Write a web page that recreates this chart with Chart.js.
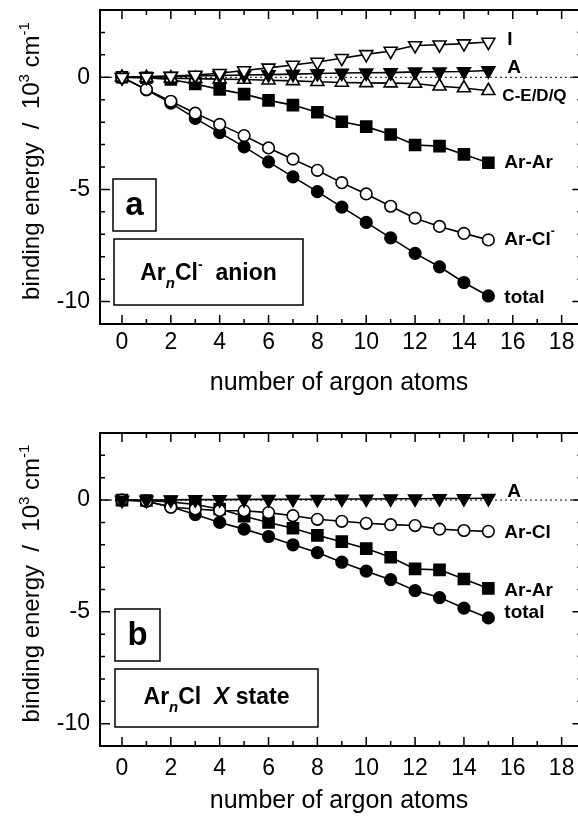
<!DOCTYPE html>
<html>
<head>
<meta charset="utf-8">
<script src="https://cdn.jsdelivr.net/npm/chart.js@4.4.1/dist/chart.umd.min.js"></script>
<style>
  html, body { margin: 0; padding: 0; background: #fff; }
  canvas { display: block; }
</style>
</head>
<body>
<canvas id="chartA" width="578" height="400"></canvas>
<canvas id="chartB" width="578" height="416"></canvas>
<script>
// number of argon atoms
var nAtoms = [0, 1, 2, 3, 4, 5, 6, 7, 8, 9, 10, 11, 12, 13, 14, 15];
var xTicks = [0, 2, 4, 6, 8, 10, 12, 14, 16, 18];
var yTicks = [-10, -5, 0];

// (a) ArnCl- anion, binding energy / 10^3 cm^-1
var anionI     = [0, 0.02, 0.05, 0.1, 0.18, 0.3, 0.42, 0.55, 0.68, 0.85, 1.02, 1.17, 1.42, 1.45, 1.5, 1.57];
var anionA     = [0, 0.02, 0.04, 0.06, 0.08, 0.1, 0.12, 0.14, 0.17, 0.19, 0.2, 0.21, 0.24, 0.25, 0.26, 0.3];
var anionCEDQ  = [0, -0.02, -0.04, -0.06, -0.08, -0.1, -0.13, -0.16, -0.2, -0.23, -0.25, -0.26, -0.28, -0.4, -0.48, -0.6];
var anionArAr  = [0, -0.02, -0.1, -0.3, -0.54, -0.75, -1.03, -1.24, -1.56, -1.98, -2.2, -2.55, -3.02, -3.07, -3.44, -3.81];
var anionArCl  = [0, -0.54, -1.07, -1.6, -2.1, -2.6, -3.15, -3.65, -4.15, -4.7, -5.2, -5.75, -6.28, -6.65, -6.96, -7.25];
var anionTotal = [0, -0.56, -1.15, -1.83, -2.47, -3.1, -3.77, -4.44, -5.1, -5.79, -6.47, -7.16, -7.85, -8.45, -9.15, -9.75];

// (b) ArnCl X state
var xsA     = [0, 0, 0.01, 0.02, 0.02, 0.03, 0.03, 0.04, 0.04, 0.05, 0.05, 0.06, 0.06, 0.07, 0.07, 0.08];
var xsArCl  = [0, -0.05, -0.32, -0.4, -0.47, -0.48, -0.56, -0.7, -0.86, -0.95, -1.04, -1.1, -1.14, -1.3, -1.36, -1.4];
var xsArAr  = [0, -0.02, -0.08, -0.2, -0.4, -0.72, -1.0, -1.26, -1.58, -1.86, -2.17, -2.56, -3.08, -3.12, -3.53, -3.95];
var xsTotal = [0, -0.05, -0.3, -0.65, -1.0, -1.3, -1.63, -2.0, -2.35, -2.78, -3.18, -3.56, -4.05, -4.36, -4.83, -5.27];

var FONT = '"Liberation Sans", Arial, Helvetica, sans-serif';

function pts(vals) {
  return vals.map(function(v, i){ return {x: nAtoms[i], y: v}; });
}

function series(vals, shape, filled, radius, rot) {
  return {
    data: pts(vals),
    borderColor: '#000',
    borderWidth: 1.6,
    pointStyle: shape,
    pointRadius: radius,
    pointRotation: rot || 0,
    pointBackgroundColor: filled ? '#000' : '#fff',
    pointBorderColor: '#000',
    pointBorderWidth: 1.6,
    tension: 0,
    fill: false
  };
}

function drawRich(ctx, x, y, parts, align) {
  var w = 0;
  parts.forEach(function(p){ ctx.font = p.font; w += ctx.measureText(p.t).width; });
  if (align === 'center') x -= w / 2;
  ctx.textAlign = 'left';
  parts.forEach(function(p){
    ctx.font = p.font;
    ctx.fillText(p.t, x, y + (p.dy || 0));
    x += ctx.measureText(p.t).width;
  });
}

// dotted zero line under the data
var zeroLine = {
  id: 'zeroLine',
  beforeDatasetsDraw: function(chart) {
    var ctx = chart.ctx, a = chart.chartArea;
    var y0 = chart.scales.y.getPixelForValue(0);
    ctx.save();
    ctx.strokeStyle = '#000';
    ctx.lineWidth = 1;
    ctx.setLineDash([2, 3]);
    ctx.beginPath();
    ctx.moveTo(a.left, y0);
    ctx.lineTo(a.right, y0);
    ctx.stroke();
    ctx.restore();
  }
};

// frame, inward ticks, labels, boxes, y title
var decor = {
  id: 'decor',
  afterDatasetsDraw: function(chart, args, opts) {
    var ctx = chart.ctx, a = chart.chartArea;
    var xs = chart.scales.x, ys = chart.scales.y;
    var right = xs.getPixelForValue(18.85);
    ctx.save();
    ctx.strokeStyle = '#000';
    ctx.fillStyle = '#000';
    ctx.lineWidth = 2;
    ctx.beginPath();
    ctx.moveTo(right, a.top); ctx.lineTo(a.left, a.top);
    ctx.lineTo(a.left, a.bottom); ctx.lineTo(right, a.bottom);
    ctx.lineTo(right, a.top);
    ctx.stroke();

    ctx.lineWidth = 1.5;
    ctx.beginPath();
    for (var i = 0; i <= 18; i++) {
      var px = xs.getPixelForValue(i);
      var len = i % 2 === 0 ? 9 : 5;
      ctx.moveTo(px, a.bottom); ctx.lineTo(px, a.bottom - len);
      ctx.moveTo(px, a.top); ctx.lineTo(px, a.top + len);
    }
    for (var j = -10; j <= 2; j++) {
      var py = ys.getPixelForValue(j);
      var l2 = j % 5 === 0 ? 10 : 5;
      ctx.moveTo(a.left, py); ctx.lineTo(a.left + l2, py);
      ctx.moveTo(right, py); ctx.lineTo(right - l2, py);
    }
    ctx.stroke();

    // series labels next to the last point
    ctx.textBaseline = 'middle';
    opts.labels.forEach(function(lb) {
      var ds = chart.data.datasets[lb.ds];
      var last = ds.data[ds.data.length - 1];
      var x = xs.getPixelForValue(last.x) + lb.dx;
      var y = ys.getPixelForValue(last.y) + lb.dy;
      drawRich(ctx, x, y, lb.parts, 'left');
    });

    // panel boxes
    ctx.textBaseline = 'alphabetic';
    ctx.lineWidth = 1.5;
    opts.boxes.forEach(function(b) {
      ctx.strokeRect(a.left + b.x, a.top + b.y, b.w, b.h);
      drawRich(ctx, a.left + b.x + b.w / 2, a.top + b.y + b.base, b.parts, 'center');
    });

    // y axis title with superscripts
    ctx.translate(39, (a.top + a.bottom) / 2 - 6);
    ctx.rotate(-Math.PI / 2);
    var f = '24px ' + FONT, fs = '15px ' + FONT;
    drawRich(ctx, 0, 0, [
      {t: 'binding energy  /  10', font: f},
      {t: '3', font: fs, dy: -10},
      {t: ' cm', font: f},
      {t: '-1', font: fs, dy: -10}
    ], 'center');
    ctx.restore();
  }
};

function makeChart(id, datasets, padTop, xAxisH, tickPad, titlePad, labels, boxes) {
  return new Chart(document.getElementById(id), {
    type: 'line',
    data: { datasets: datasets },
    options: {
      responsive: false,
      animation: false,
      layout: { autoPadding: false, padding: { top: padTop, right: 0, left: 0, bottom: 0 } },
      plugins: {
        legend: { display: false },
        tooltip: { enabled: false },
        decor: { labels: labels, boxes: boxes }
      },
      scales: {
        x: {
          type: 'linear',
          min: -0.9,
          max: 18.67,
          grid: { display: false, drawTicks: false },
          border: { display: false },
          afterBuildTicks: function(s) { s.ticks = xTicks.map(function(v){ return {value: v}; }); },
          afterFit: function(s) { s.height = xAxisH; s.paddingLeft = 0; s.paddingRight = 0; },
          ticks: { color: '#000', padding: tickPad, font: { family: FONT, size: 23 }, maxRotation: 0 },
          title: { display: true, text: 'number of argon atoms', color: '#000',
                   font: { family: FONT, size: 25 }, padding: { top: 0, bottom: titlePad } }
        },
        y: {
          min: -11,
          max: 3,
          grid: { display: false, drawTicks: false },
          border: { display: false },
          afterBuildTicks: function(s) { s.ticks = yTicks.map(function(v){ return {value: v}; }); },
          afterFit: function(s) { s.width = 100; s.paddingTop = 0; s.paddingBottom = 0; },
          ticks: { color: '#000', padding: 10, font: { family: FONT, size: 23 } }
        }
      }
    },
    plugins: [zeroLine, decor]
  });
}

var B18 = 'bold 19px ' + FONT, B17 = 'bold 17px ' + FONT, B11 = 'bold 12px ' + FONT;
var B22 = 'bold 23px ' + FONT, B14 = 'bold italic 15px ' + FONT, B13 = 'bold 14px ' + FONT;

makeChart('chartA', [
  series(anionI, 'triangle', false, 7.5, 180),
  series(anionA, 'triangle', true, 7.5, 180),
  series(anionCEDQ, 'triangle', false, 7.5, 0),
  series(anionArAr, 'rect', true, 7.8),
  series(anionArCl, 'circle', false, 5.8),
  series(anionTotal, 'circle', true, 5.8)
], 10, 76, 5, 2, [
  {ds: 0, dx: 19, dy: -2, parts: [{t: 'I', font: B18}]},
  {ds: 1, dx: 19, dy: -3, parts: [{t: 'A', font: B18}]},
  {ds: 2, dx: 14, dy: 6, parts: [{t: 'C-E/D/Q', font: B17}]},
  {ds: 3, dx: 16, dy: 0, parts: [{t: 'Ar-Ar', font: B18}]},
  {ds: 4, dx: 16, dy: 0, parts: [{t: 'Ar-Cl', font: B18}, {t: '-', font: B11, dy: -8}]},
  {ds: 5, dx: 16, dy: 2, parts: [{t: 'total', font: B18}]}
], [
  {x: 13, y: 169, w: 43, h: 52, base: 36, parts: [{t: 'a', font: 'bold 33px ' + FONT}]},
  {x: 14, y: 229, w: 189, h: 66, base: 41, parts: [
    {t: 'Ar', font: B22}, {t: 'n', font: B14, dy: 8}, {t: 'Cl', font: B22},
    {t: '-', font: B13, dy: -11}, {t: '  anion', font: B22}
  ]}
]);

makeChart('chartB', [
  series(xsA, 'triangle', true, 7.5, 180),
  series(xsArCl, 'circle', false, 5.8),
  series(xsArAr, 'rect', true, 7.8),
  series(xsTotal, 'circle', true, 5.8)
], 33, 70, 9, 0, [
  {ds: 0, dx: 19, dy: -7, parts: [{t: 'A', font: B18}]},
  {ds: 1, dx: 16, dy: 1, parts: [{t: 'Ar-Cl', font: B18}]},
  {ds: 2, dx: 16, dy: 2, parts: [{t: 'Ar-Ar', font: B18}]},
  {ds: 3, dx: 16, dy: -5, parts: [{t: 'total', font: B18}]}
], [
  {x: 15, y: 176, w: 45, h: 52, base: 36, parts: [{t: 'b', font: 'bold 33px ' + FONT}]},
  {x: 15, y: 236, w: 203, h: 58, base: 35, parts: [
    {t: 'Ar', font: B22}, {t: 'n', font: B14, dy: 8}, {t: 'Cl  ', font: B22},
    {t: 'X', font: 'bold italic 23px ' + FONT}, {t: ' state', font: B22}
  ]}
]);
</script>
</body>
</html>
